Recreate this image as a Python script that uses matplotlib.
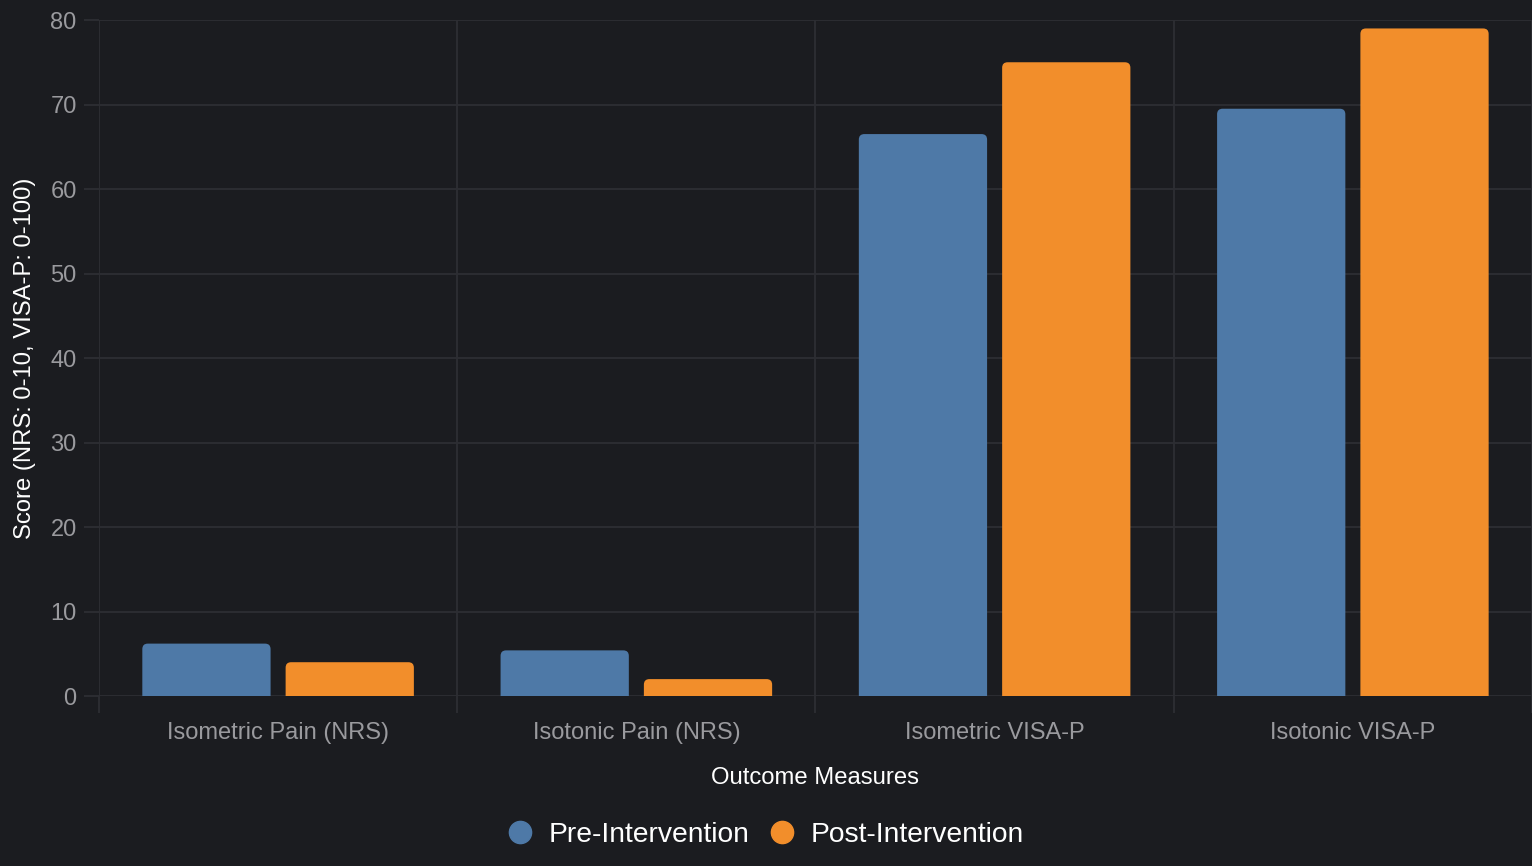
import numpy as np
import matplotlib
matplotlib.use("Agg")
import matplotlib.pyplot as plt
from matplotlib.patches import PathPatch
from matplotlib.path import Path
from matplotlib.lines import Line2D

plt.rcParams['font.family'] = ['Liberation Sans', 'DejaVu Sans']

categories = ['Isometric Pain (NRS)', 'Isotonic Pain (NRS)', 'Isometric VISA-P', 'Isotonic VISA-P']
pre = [6.2, 5.4, 66.5, 69.5]
post = [4.0, 2.0, 75.0, 79.0]
series_names = ['Pre-Intervention', 'Post-Intervention']

bg = '#1b1c20'
grid_c = '#2d2e33'
blue = '#4e79a7'
orange = '#f28e2b'

fig = plt.figure(figsize=(15.32, 8.66), dpi=100, facecolor=bg)
ax = fig.add_axes([0.0646, 0.1963, 0.9354, 0.7806])
ax.set_facecolor(bg)

x = np.arange(len(categories))
w = 0.358
off = 0.2
b1 = ax.bar(x - off, pre, w, color=blue)
b2 = ax.bar(x + off, post, w, color=orange)

ax.set_xlim(-0.5, len(categories) - 0.5)
ax.set_ylim(0, 80)


def round_top(x0, y0, bw, bh, rx, ry):
    # rectangle with rounded top corners only
    x1, y1 = x0 + bw, y0 + bh
    verts = [(x0, y0), (x1, y0), (x1, y1 - ry), (x1, y1), (x1 - rx, y1),
             (x0 + rx, y1), (x0, y1), (x0, y1 - ry), (x0, y0)]
    codes = [Path.MOVETO, Path.LINETO, Path.LINETO, Path.CURVE3, Path.CURVE3,
             Path.LINETO, Path.CURVE3, Path.CURVE3, Path.CLOSEPOLY]
    return Path(verts, codes)


rx = 5.5 / 358
ry = 5.5 / 8.45
for bars, col in ((b1, blue), (b2, orange)):
    for p in bars:
        p.set_visible(False)
        path = round_top(p.get_x(), p.get_y(), p.get_width(), p.get_height(), rx, ry)
        ax.add_patch(PathPatch(path, fc=col, ec='none', zorder=3))

ax.set_yticks(np.arange(0, 81, 10))
ax.set_xticks(x)
ax.set_xticklabels(categories)
ax.set_xticks(np.arange(-0.5, len(categories), 1), minor=True)
ax.grid(axis='y', which='major', color=grid_c, lw=1.3)
ax.grid(axis='x', which='minor', color=grid_c, lw=1.3)
ax.set_axisbelow(True)

ax.tick_params(axis='x', which='major', length=0, pad=19, labelsize=17, labelcolor='#9a9a9e')
ax.tick_params(axis='x', which='minor', length=12, width=1.3, color=grid_c)
ax.tick_params(axis='y', length=11, width=1.3, color=grid_c, pad=5, labelsize=17, labelcolor='#9a9a9e')

for s in ax.spines.values():
    s.set_visible(False)

ax.set_xlabel('Outcome Measures', color='white', fontsize=17.2, labelpad=16)
ax.set_ylabel('Score (NRS: 0-10, VISA-P: 0-100)', color='white', fontsize=17.2, labelpad=10)

handles = [Line2D([], [], marker='o', ls='none', markersize=16, color=c) for c in (blue, orange)]
leg = fig.legend(handles, series_names, loc='center', bbox_to_anchor=(0.4948, 0.036), ncol=2,
                 frameon=False, fontsize=20.3, handletextpad=0.02, columnspacing=0.15)
for t in leg.get_texts():
    t.set_color('white')

fig.savefig('out.png', dpi=100, facecolor=bg)
